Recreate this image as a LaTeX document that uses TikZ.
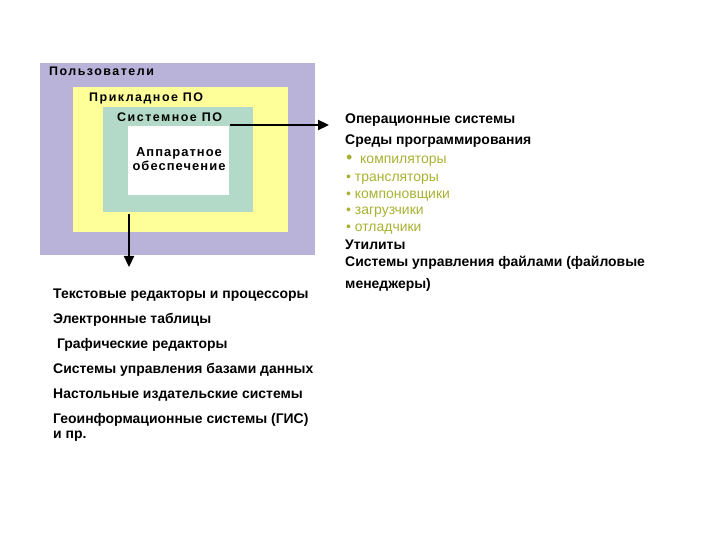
\documentclass[tikz,border=0pt]{standalone}
\usepackage{fontspec}
\setmainfont{Liberation Sans}
\usetikzlibrary{arrows.meta}
\definecolor{usercol}{HTML}{B9B3D9}
\definecolor{appcol}{HTML}{FFFF99}
\definecolor{syscol}{HTML}{B3D9C8}
\definecolor{greentxt}{HTML}{A8B030}
\tikzset{
  layer/.style={draw=none, inner sep=0pt},
  boxlabel/.style={anchor=west, inner sep=0pt, font=\fontsize{12.5}{14}\selectfont\bfseries\addfontfeatures{LetterSpace=12}},
  item/.style={anchor=west, inner sep=0pt, font=\fontsize{14}{16}\selectfont\bfseries},
  gitem/.style={anchor=west, inner sep=0pt, text=greentxt, font=\fontsize{14}{16}\selectfont},
  conn/.style={line width=2.3pt, -{Triangle[length=11bp,width=10bp]}}
}
\begin{document}
\begin{tikzpicture}[x=1bp,y=-1bp]
\useasboundingbox (0,0) rectangle (720,540);
% layers
\fill[usercol] (40,63) rectangle (315,255);
\fill[appcol] (73,87) rectangle (288,232);
\fill[syscol] (103,107) rectangle (253,212);
\fill[white] (128,126) rectangle (229,195);
\node[layer] (hw) at (178.5,160.5) {};
\node[boxlabel] (users) at (49,71) {Пользователи};
\node[boxlabel] (app) at (89,98) {Прикладное ПО};
\node[boxlabel] (sys) at (117,117) {Системное ПО};
\node[align=center, inner sep=0pt, font=\fontsize{13}{13.5}\selectfont\bfseries\addfontfeatures{LetterSpace=8}] (hwlabel) at (179,159) {Аппаратное\\обеспечение};
% connector endpoints
\coordinate (rstart) at (230,125);
\coordinate (rend) at (329,125);
\coordinate (dstart) at (129,214);
\coordinate (dend) at (129,267);
\draw[conn] (rstart) -- (rend);
\draw[conn] (dstart) -- (dend);
% right list
\node[item] (os) at (345,120) {Операционные системы};
\node[item] (ide) at (345,141) {Среды программирования};
\node[gitem] (c1) at (346,161) {\fontsize{18}{18}\selectfont•\fontsize{14}{16}\selectfont\ \ компиляторы};
\node[gitem] (c2) at (346,179) {• трансляторы};
\node[gitem] (c3) at (346,196) {• компоновщики};
\node[gitem] (c4) at (346,212) {• загрузчики};
\node[gitem] (c5) at (346,229) {• отладчики};
\node[item] (util) at (345,245) {Утилиты};
\node[item] (fm1) at (345,263) {Системы управления файлами (файловые};
\node[item] (fm2) at (345,285) {менеджеры)};
% bottom list
\node[item] (t1) at (53,295) {Текстовые редакторы и процессоры};
\node[item] (t2) at (53,320) {Электронные таблицы};
\node[item] (t3) at (53,345) {\ Графические редакторы};
\node[item] (t4) at (53,370) {Системы управления базами данных};
\node[item] (t5) at (53,395) {Настольные издательские системы};
\node[item] (t6) at (53,420) {Геоинформационные системы (ГИС)};
\node[item] (t7) at (53,436) {и пр.};
\end{tikzpicture}
\end{document}
